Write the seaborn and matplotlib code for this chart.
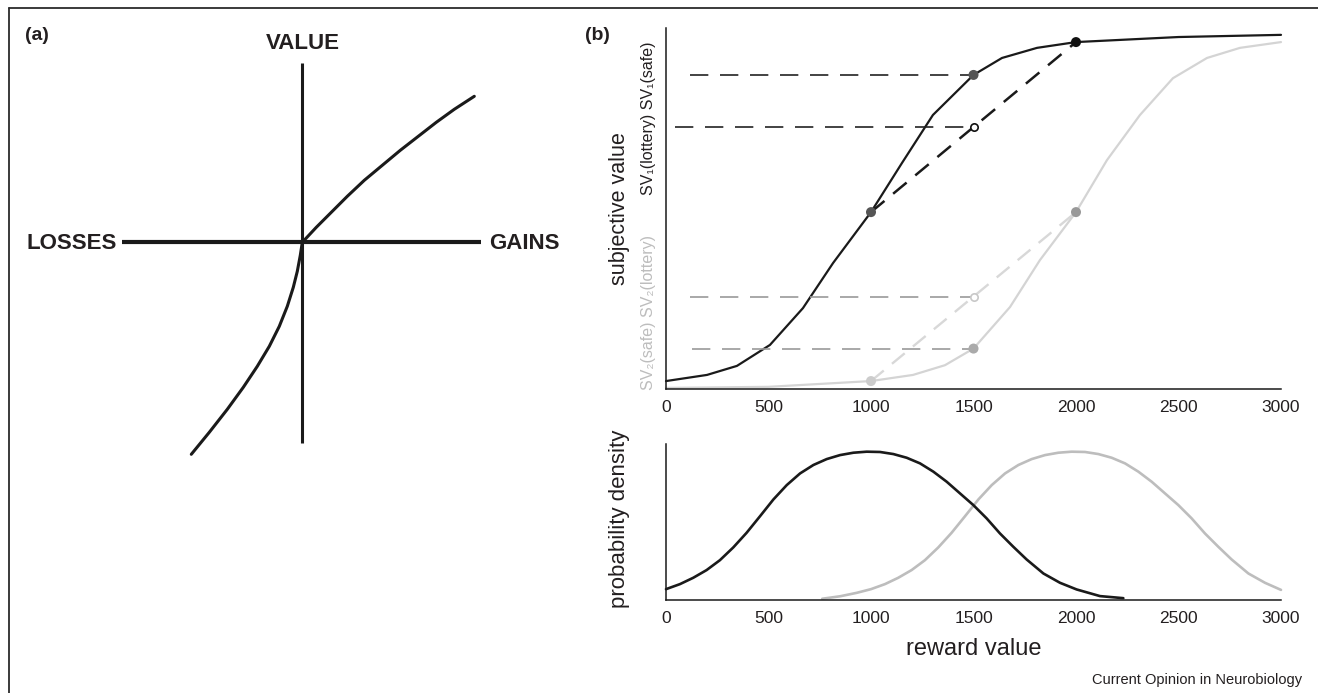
import seaborn as sns
import matplotlib.pyplot as plt
import pandas as pd
from matplotlib.lines import Line2D

# ---- panel (a): value function (pixel-like units, origin at crossing) ----
gains_x = [0, 14, 28, 45, 62, 80, 98, 116, 134, 152, 172]
gains_y = [0, 15, 29, 46, 62, 77, 92, 106, 120, 133, 146]
losses_x = [0, -2, -5, -9, -15, -23, -33, -45, -59, -75, -93, -111]
losses_y = [0, -13, -29, -45, -64, -84, -104, -124, -145, -167, -190, -212]

# ---- panel (b) top: subjective value vs reward ----
sv1_x = [0, 200, 346, 507, 668, 815, 1000, 1151, 1302, 1500, 1639, 1810, 2000, 2500, 3000]
sv1_y = [0.022, 0.039, 0.064, 0.122, 0.224, 0.349, 0.490, 0.626, 0.759, 0.870,
         0.917, 0.945, 0.961, 0.975, 0.981]
sv2_x = [0, 500, 1000, 1205, 1361, 1500, 1678, 1824, 2000, 2151, 2312, 2473, 2639, 2800, 3000]
sv2_y = [0.003, 0.006, 0.022, 0.039, 0.066, 0.112, 0.227, 0.357, 0.490, 0.634,
         0.759, 0.861, 0.917, 0.945, 0.961]

# lottery chords
chord1_x = [1000, 2000]
chord1_y = [0.490, 0.961]
chord2_x = [1000, 2000]
chord2_y = [0.022, 0.490]

# horizontal guides: SV1(safe), SV1(lottery), SV2(lottery), SV2(safe)
guide_y = [0.870, 0.726, 0.255, 0.112]
guide_x0 = [117, 44, 117, 127]
guide_x1 = [1500, 1500, 1500, 1500]
guide_col = ["#222222", "#222222", "#9a9a9a", "#9a9a9a"]

# markers
pt_x = [1000, 1500, 2000, 2000, 1500, 1000]
pt_y = [0.490, 0.870, 0.961, 0.490, 0.112, 0.022]
pt_col = ["#555555", "#555555", "#111111", "#999999", "#aaaaaa", "#cccccc"]
open_x = [1500, 1500]
open_y = [0.726, 0.255]
open_col = ["#111111", "#c8c8c8"]

# ---- panel (b) bottom: reward distributions ----
pd1_x = [0, 68, 133, 198, 263, 328, 393, 459, 524, 589, 654, 719, 784, 849, 914,
         979, 1044, 1109, 1174, 1239, 1304, 1369, 1434, 1499, 1564, 1629, 1694,
         1759, 1841, 1922, 2003, 2117, 2231]
pd1_y = [0.070, 0.104, 0.147, 0.199, 0.266, 0.352, 0.451, 0.564, 0.677, 0.774,
         0.853, 0.910, 0.950, 0.977, 0.993, 1.000, 0.998, 0.984, 0.959, 0.921,
         0.865, 0.797, 0.718, 0.639, 0.549, 0.447, 0.357, 0.271, 0.176, 0.113,
         0.068, 0.023, 0.009]
pd2_x = [762, 850, 930, 1000, 1068, 1133, 1198, 1263, 1328, 1393, 1459, 1524,
         1589, 1654, 1719, 1784, 1849, 1914, 1979, 2044, 2109, 2174, 2239, 2304,
         2369, 2434, 2499, 2564, 2629, 2694, 2759, 2841, 2922, 3000]
pd2_y = [0.005, 0.022, 0.045, 0.070, 0.104, 0.147, 0.199, 0.266, 0.352, 0.451,
         0.564, 0.677, 0.774, 0.853, 0.910, 0.950, 0.977, 0.993, 1.000, 0.998,
         0.984, 0.959, 0.921, 0.865, 0.797, 0.718, 0.639, 0.549, 0.447, 0.357,
         0.271, 0.176, 0.113, 0.065]

x_ticks = [0, 500, 1000, 1500, 2000, 2500, 3000]

sns.set_style("white")
plt.rcParams['font.family'] = ['Liberation Sans', 'DejaVu Sans']
TXT = "#231f20"

W, H = 1318, 693
fig = plt.figure(figsize=(W / 100, H / 100), dpi=100)

# border (left + top)
fig.add_artist(Line2D([9 / W, 9 / W], [0, 1 - 8 / H], color="#2b2b2b", lw=1.3))
fig.add_artist(Line2D([9 / W, 1], [1 - 8 / H, 1 - 8 / H], color="#2b2b2b", lw=1.3))

# ---------------- panel (a) ----------------
ox, oy = 302.3, 242.3
axa = fig.add_axes([0, 0, 580 / W, 1])
axa.set_xlim(-ox, 580 - ox)
axa.set_ylim(oy - H, oy)
axa.axis("off")
axa.plot([-180, 179], [0, 0], color="#1a1a1a", lw=3.0, solid_capstyle="butt")
axa.plot([0, 0], [-201, 179], color="#1a1a1a", lw=2.2, solid_capstyle="butt")
sns.lineplot(x=gains_x, y=gains_y, ax=axa, color="#1a1a1a", lw=2.2,
             sort=False, estimator=None)
sns.lineplot(x=losses_x, y=losses_y, ax=axa, color="#1a1a1a", lw=2.2,
             sort=False, estimator=None)
axa.text(1, 199, "VALUE", ha="center", va="center", fontsize=16,
         fontweight="bold", color=TXT)
axa.text(-185, -1, "LOSSES", ha="right", va="center", fontsize=16,
         fontweight="bold", color=TXT)
axa.text(187, -1, "GAINS", ha="left", va="center", fontsize=16,
         fontweight="bold", color=TXT)
fig.text(25 / W, 1 - 36 / H, "(a)", ha="left", va="center", fontsize=14,
         fontweight="bold", color=TXT)

# ---------------- panel (b) top ----------------
axt = fig.add_axes([666 / W, 1 - 389 / H, 615 / W, 361 / H])
sns.lineplot(x=sv2_x, y=sv2_y, ax=axt, color="#d4d4d4", lw=1.6,
             sort=False, estimator=None, clip_on=False)
sns.lineplot(x=sv1_x, y=sv1_y, ax=axt, color="#1a1a1a", lw=1.6,
             sort=False, estimator=None, clip_on=False)
axt.plot(chord2_x, chord2_y, color="#d8d8d8", lw=1.7, linestyle=(0, (7, 4.5)))
axt.plot(chord1_x, chord1_y, color="#1a1a1a", lw=1.8, linestyle=(0, (7, 4.5)))
for y, a, b, c in zip(guide_y, guide_x0, guide_x1, guide_col):
    axt.plot([a, b], [y, y], color=c, lw=1.2, linestyle=(0, (11, 7)))
pts = pd.DataFrame({"x": pt_x, "y": pt_y, "c": pt_col})
sns.scatterplot(data=pts, x="x", y="y", hue="c", palette={c: c for c in pt_col},
                s=52, linewidth=0, legend=False, ax=axt, zorder=5)
for x, y, c in zip(open_x, open_y, open_col):
    axt.scatter([x], [y], s=28, facecolor="white", edgecolor=c, linewidth=1.2, zorder=6)

axt.set_xlim(0, 3000)
axt.set_ylim(0, 1)
axt.set_xticks(x_ticks)
axt.set_yticks(guide_y)
axt.set_yticklabels([])
axt.set_xlabel("")
axt.set_ylabel("")
axt.tick_params(axis="x", direction="in", length=6, width=1, labelsize=12.5,
                pad=8, colors=TXT)
axt.tick_params(axis="y", direction="inout", length=3, width=1, colors="#555555")
for s in ["top", "right"]:
    axt.spines[s].set_visible(False)
for s in ["left", "bottom"]:
    axt.spines[s].set_color("#1a1a1a")
    axt.spines[s].set_linewidth(1.1)

fig.text(620 / W, 1 - 209 / H, "subjective value", rotation=90, ha="center",
         va="center", fontsize=15.5, color=TXT)
fig.text(649 / W, 1 - 118 / H, "SV\u2081(lottery) SV\u2081(safe)", rotation=90,
         ha="center", va="center", fontsize=11.5, color=TXT)
fig.text(649 / W, 1 - 312 / H, "SV\u2082(safe) SV\u2082(lottery)", rotation=90,
         ha="center", va="center", fontsize=11.5, color="#bdbdbd")
fig.text(585 / W, 1 - 36 / H, "(b)", ha="left", va="center", fontsize=14,
         fontweight="bold", color=TXT)

# ---------------- panel (b) bottom ----------------
axb = fig.add_axes([666 / W, 1 - 599.5 / H, 615 / W, 155.5 / H])
sns.lineplot(x=pd2_x, y=pd2_y, ax=axb, color="#bdbdbd", lw=1.9,
             sort=False, estimator=None, clip_on=False)
sns.lineplot(x=pd1_x, y=pd1_y, ax=axb, color="#1a1a1a", lw=1.9,
             sort=False, estimator=None, clip_on=False)
axb.set_xlim(0, 3000)
axb.set_ylim(0, 1.052)
axb.set_xticks(x_ticks)
axb.set_yticks([])
axb.set_ylabel("")
axb.set_xlabel("reward value", fontsize=17, color=TXT, labelpad=9)
axb.tick_params(axis="x", direction="in", length=6, width=1, labelsize=12.5,
                pad=8, colors=TXT)
for s in ["top", "right"]:
    axb.spines[s].set_visible(False)
for s in ["left", "bottom"]:
    axb.spines[s].set_color("#1a1a1a")
    axb.spines[s].set_linewidth(1.1)

fig.text(620 / W, 1 - 519 / H, "probability density", rotation=90, ha="center",
         va="center", fontsize=16, color=TXT)
fig.text(1302 / W, 1 - 680 / H, "Current Opinion in Neurobiology", ha="right",
         va="center", fontsize=10.5, color=TXT)

fig.savefig("out.png", dpi=100)
plt.close(fig)
